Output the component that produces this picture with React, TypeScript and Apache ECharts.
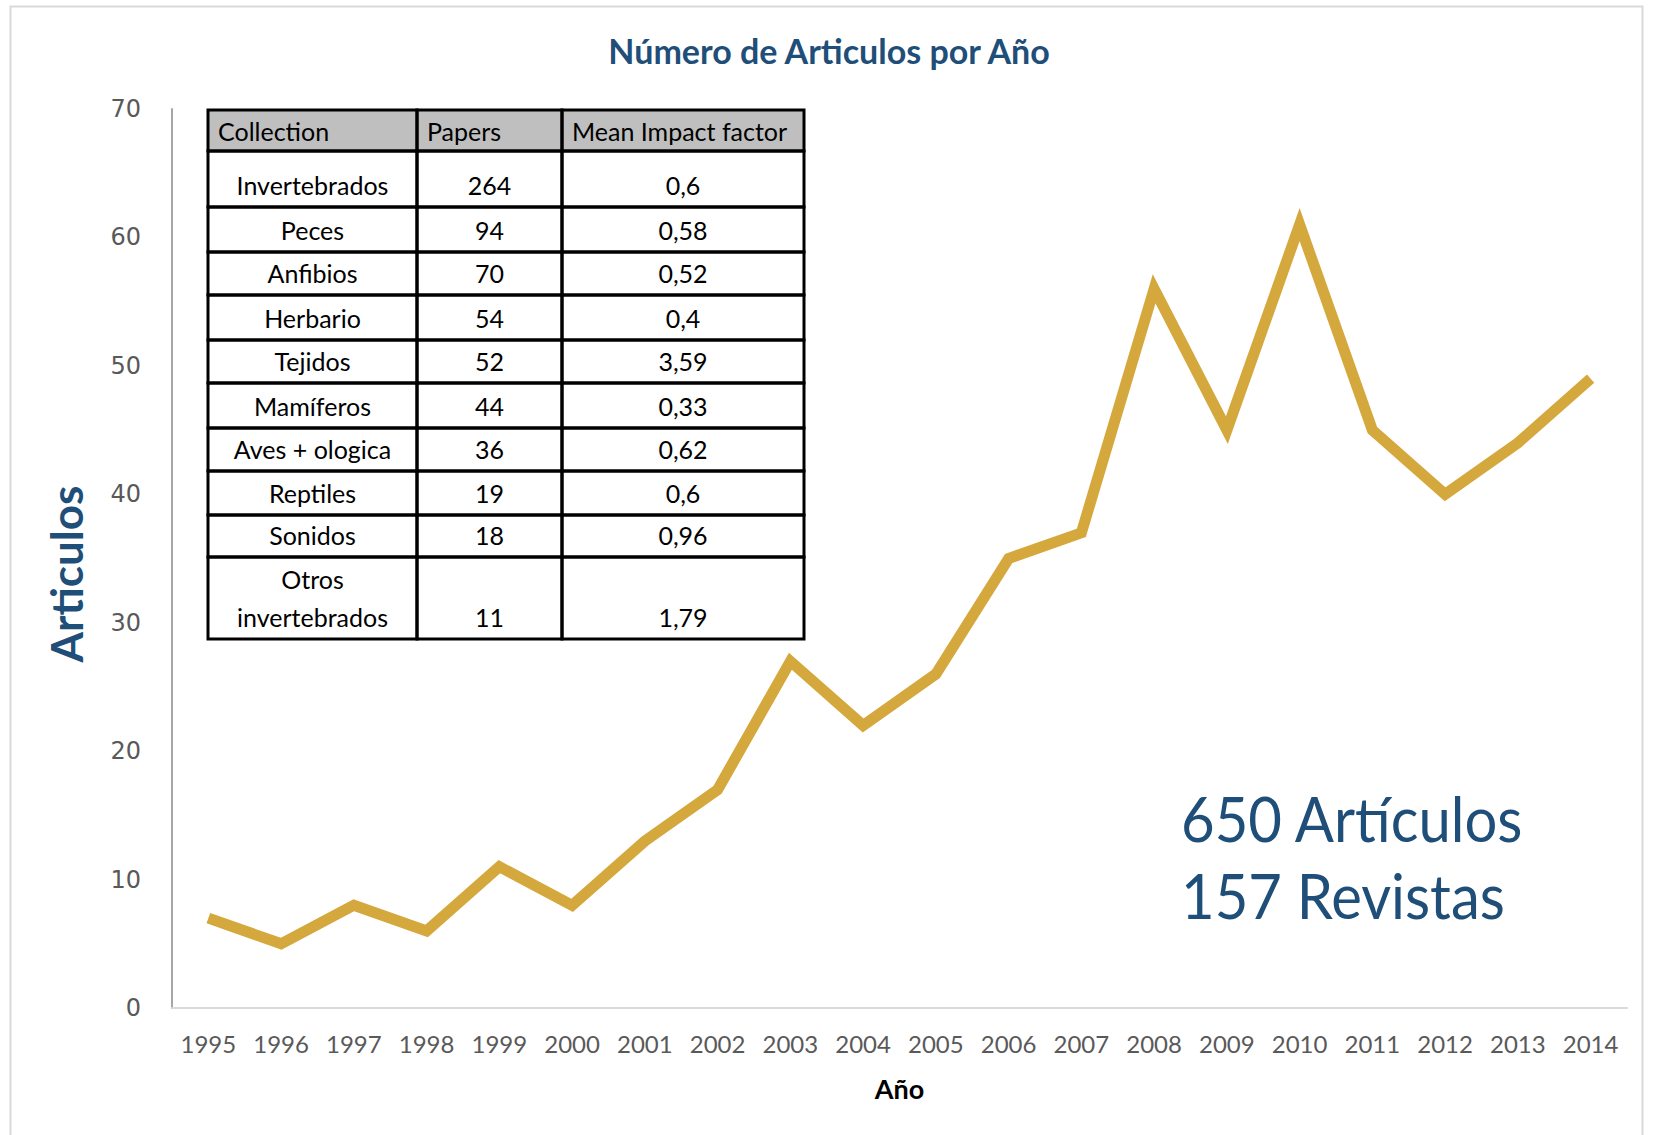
import React, { useEffect, useRef } from "react";
import * as echarts from "echarts";

const years = ["1995","1996","1997","1998","1999","2000","2001","2002","2003","2004","2005","2006","2007","2008","2009","2010","2011","2012","2013","2014"];
const articles = [7, 5, 8, 6, 11, 8, 13, 17, 27, 22, 26, 35, 37, 56, 45, 61, 45, 40, 44, 49];

const tableHeaders = ["Collection", "Papers", "Mean Impact factor"];
const collections = ["Invertebrados", "Peces", "Anfibios", "Herbario", "Tejidos", "Mamíferos", "Aves + ologica", "Reptiles", "Sonidos", "Otros\ninvertebrados"];
const papers = ["264", "94", "70", "54", "52", "44", "36", "19", "18", "11"];
const impactFactors = ["0,6", "0,58", "0,52", "0,4", "3,59", "0,33", "0,62", "0,6", "0,96", "1,79"];

const titleText = "Número de Articulos por Año";
const yAxisTitle = "Articulos";
const xAxisTitle = "Año";
const summaryLines = ["650 Artículos", "157 Revistas"];

const BLUE = "#1F4E79";
const GOLD = "#D4A83C";
const FONT = "Lato, 'Noto Sans', sans-serif";

export default function App() {
  const ref = useRef<HTMLDivElement>(null);
  useEffect(() => {
    if (!ref.current) return;
    const chart = echarts.init(ref.current, null, { renderer: "svg" });

    // table layout
    const colX = [208, 417, 562, 804];
    const rowY = [110, 151, 207, 252, 295, 340, 383, 428, 471, 515, 557, 639];
    const tableEls: any[] = [];
    tableEls.push({
      type: "rect",
      shape: { x: colX[0], y: rowY[0], width: colX[3] - colX[0], height: rowY[1] - rowY[0] },
      style: { fill: "#BFBFBF", stroke: "none" },
    });
    for (let r = 0; r < rowY.length - 1; r++) {
      for (let c = 0; c < 3; c++) {
        tableEls.push({
          type: "rect",
          shape: { x: colX[c], y: rowY[r], width: colX[c + 1] - colX[c], height: rowY[r + 1] - rowY[r] },
          style: { fill: "none", stroke: "#000", lineWidth: 3 },
        });
      }
    }
    tableHeaders.forEach((h, c) => {
      tableEls.push({
        type: "text",
        x: colX[c] + 10,
        y: (rowY[0] + rowY[1]) / 2,
        style: { text: h, fill: "#000", font: `25px ${FONT}`, align: "left", verticalAlign: "middle" },
      });
    });
    const cols = [collections, papers, impactFactors];
    for (let r = 0; r < collections.length; r++) {
      for (let c = 0; c < 3; c++) {
        tableEls.push({
          type: "text",
          x: (colX[c] + colX[c + 1]) / 2,
          y: rowY[r + 2] - 3,
          style: {
            text: cols[c][r],
            fill: "#000",
            font: `25px ${FONT}`,
            align: "center",
            verticalAlign: "bottom",
            lineHeight: 38,
          },
        });
      }
    }

    chart.setOption({
      animation: false,
      backgroundColor: "#fff",
      title: {
        text: titleText,
        left: "center",
        top: 28,
        textStyle: { color: BLUE, fontFamily: FONT, fontWeight: "bold", fontSize: 34 },
      },
      grid: { left: 172, right: 31, top: 109, bottom: 127 },
      xAxis: {
        type: "category",
        data: years,
        boundaryGap: true,
        name: xAxisTitle,
        nameLocation: "middle",
        nameGap: 67,
        nameTextStyle: { color: "#000", fontFamily: FONT, fontWeight: "bold", fontSize: 27, verticalAlign: "top" },
        axisLine: { show: true, lineStyle: { color: "#D9D9D9", width: 2 } },
        axisTick: { show: false },
        axisLabel: { color: "#595959", fontFamily: FONT, fontSize: 24, margin: 23 },
        splitLine: { show: false },
      },
      yAxis: {
        type: "value",
        min: 0,
        max: 70,
        interval: 10,
        axisLine: { show: true, lineStyle: { color: "#A6A6A6", width: 2 } },
        axisTick: { show: false },
        axisLabel: { color: "#595959", fontFamily: "'DejaVu Sans', sans-serif", fontSize: 24, margin: 31 },
        splitLine: { show: false },
      },
      series: [
        {
          type: "line",
          data: articles,
          symbol: "none",
          lineStyle: { color: GOLD, width: 11, join: "miter" },
          itemStyle: { color: GOLD },
        },
      ],
      graphic: [
        {
          type: "rect",
          shape: { x: 10.5, y: 6.5, width: 1632, height: 1140 },
          style: { fill: "none", stroke: "#D9D9D9", lineWidth: 2 },
          silent: true,
          z: -10,
        },
        {
          type: "text",
          x: 66,
          y: 574,
          rotation: Math.PI / 2,
          style: { text: yAxisTitle, fill: BLUE, font: `bold 44px ${FONT}`, align: "center", verticalAlign: "middle" },
        },
        { type: "group", children: tableEls },
        ...summaryLines.map((t, i) => ({
          type: "text",
          x: 1181,
          y: 818 + i * 77,
          scaleY: 1.06,
          style: { text: t, fill: BLUE, font: `58px ${FONT}`, align: "left", verticalAlign: "middle" },
        })),
      ],
    });
    return () => chart.dispose();
  }, []);
  return <div ref={ref} style={{ position: "fixed", left: 0, top: 0, width: 1658, height: 1135 }} />;
}
